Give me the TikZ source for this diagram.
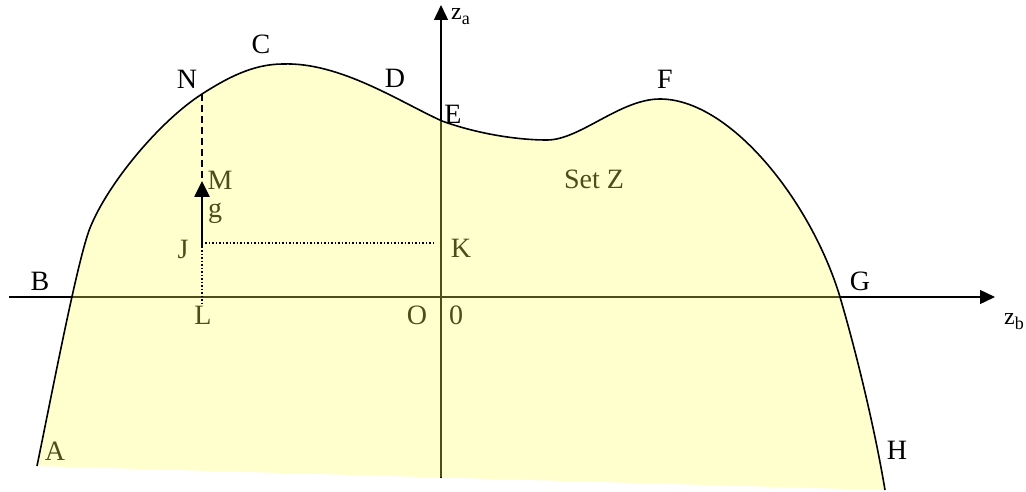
\documentclass[tikz,border=0pt]{standalone}
\usepackage{fontspec}
\setmainfont{Liberation Serif}
\usetikzlibrary{arrows.meta}
\begin{document}
\begin{tikzpicture}[x=1pt,y=-1pt,
  lbl/.style={font=\fontsize{28}{28}\selectfont, inner sep=0pt, anchor=center},
  axis/.style={line width=1.4pt, -{Triangle[length=15pt,width=14pt]}},
  yfill/.style={fill={rgb,255:red,255;green,255;blue,90}, fill opacity=0.3},
  outline/.style={line width=1.6pt},
  dotline/.style={line width=1.5pt, dash pattern=on 1.5pt off 2pt},
  dashline/.style={line width=2pt, dash pattern=on 7pt off 4pt},
  garrow/.style={line width=2.6pt, -{Triangle[length=16pt,width=15pt]}},
  zlbl/.style={inner sep=0pt, anchor=base west, font=\fontsize{24}{24}\selectfont}]
\useasboundingbox (0,0) rectangle (1026,492);
% axes
\coordinate (hs) at (9,297);
\coordinate (he) at (995,297);
\coordinate (vs) at (441,478);
\coordinate (ve) at (441,5);
\draw[axis] (hs) -- (he);
\draw[axis] (vs) -- (ve);
% labels lying inside the set (tinted by the fill)
\node[lbl] (M) at (220,180) {M};
\node[lbl] (g) at (215,213) {g};
\node[lbl] (J) at (183,249) {J};
\node[lbl] (K) at (461,248) {K};
\node[lbl] (L) at (203,315) {L};
\node[lbl] (O) at (417,315) {O};
\node[lbl] (zero) at (456,315) {0};
\node[lbl] (A) at (55,451) {A};
\node[lbl] (setz) at (594,179) {Set Z};
% the set Z
\def\setcurve{(37,466) .. controls (54,383) and (78,258) .. (90,228)
  .. controls (108,183) and (160,121) .. (202,94)
  .. controls (227,78) and (253,64) .. (283,64)
  .. controls (340,62) and (400,102) .. (442,121)
  .. controls (475,133) and (515,140) .. (547,140)
  .. controls (580,140) and (620,99) .. (660,99)
  .. controls (730,99) and (811,201) .. (840,297)
  .. controls (857,355) and (875,430) .. (885,490)}
\fill[yfill] \setcurve -- cycle;
\draw[outline] \setcurve;
% construction lines
\coordinate (Np) at (202,94);
\coordinate (Mp) at (202,181);
\coordinate (Jp) at (202,248);
\coordinate (Jd) at (205,243);
\coordinate (Kd) at (435,243);
\coordinate (Jv) at (202,243);
\coordinate (Lp) at (202,303);
\draw[dashline] (Np) -- (Mp);
\draw[garrow] (Jp) -- (Mp);
\draw[dotline] (Jd) -- (Kd);
\draw[dotline] (Jv) -- (Lp);
% outside labels
\node[lbl] (N) at (187,79) {N};
\node[lbl] (C) at (261,44) {C};
\node[lbl] (D) at (395,78) {D};
\node[lbl] (E) at (453,114) {E};
\node[lbl] (F) at (665,79) {F};
\node[lbl] (B) at (40,281) {B};
\node[lbl] (G) at (860,281) {G};
\node[lbl] (H) at (897,450) {H};
\node[zlbl] (za) at (451,20) {z\raisebox{-5pt}{\fontsize{18}{18}\selectfont a}};
\node[zlbl] (zb) at (1004,324) {z\raisebox{-5pt}{\fontsize{18}{18}\selectfont b}};
\end{tikzpicture}
\end{document}
